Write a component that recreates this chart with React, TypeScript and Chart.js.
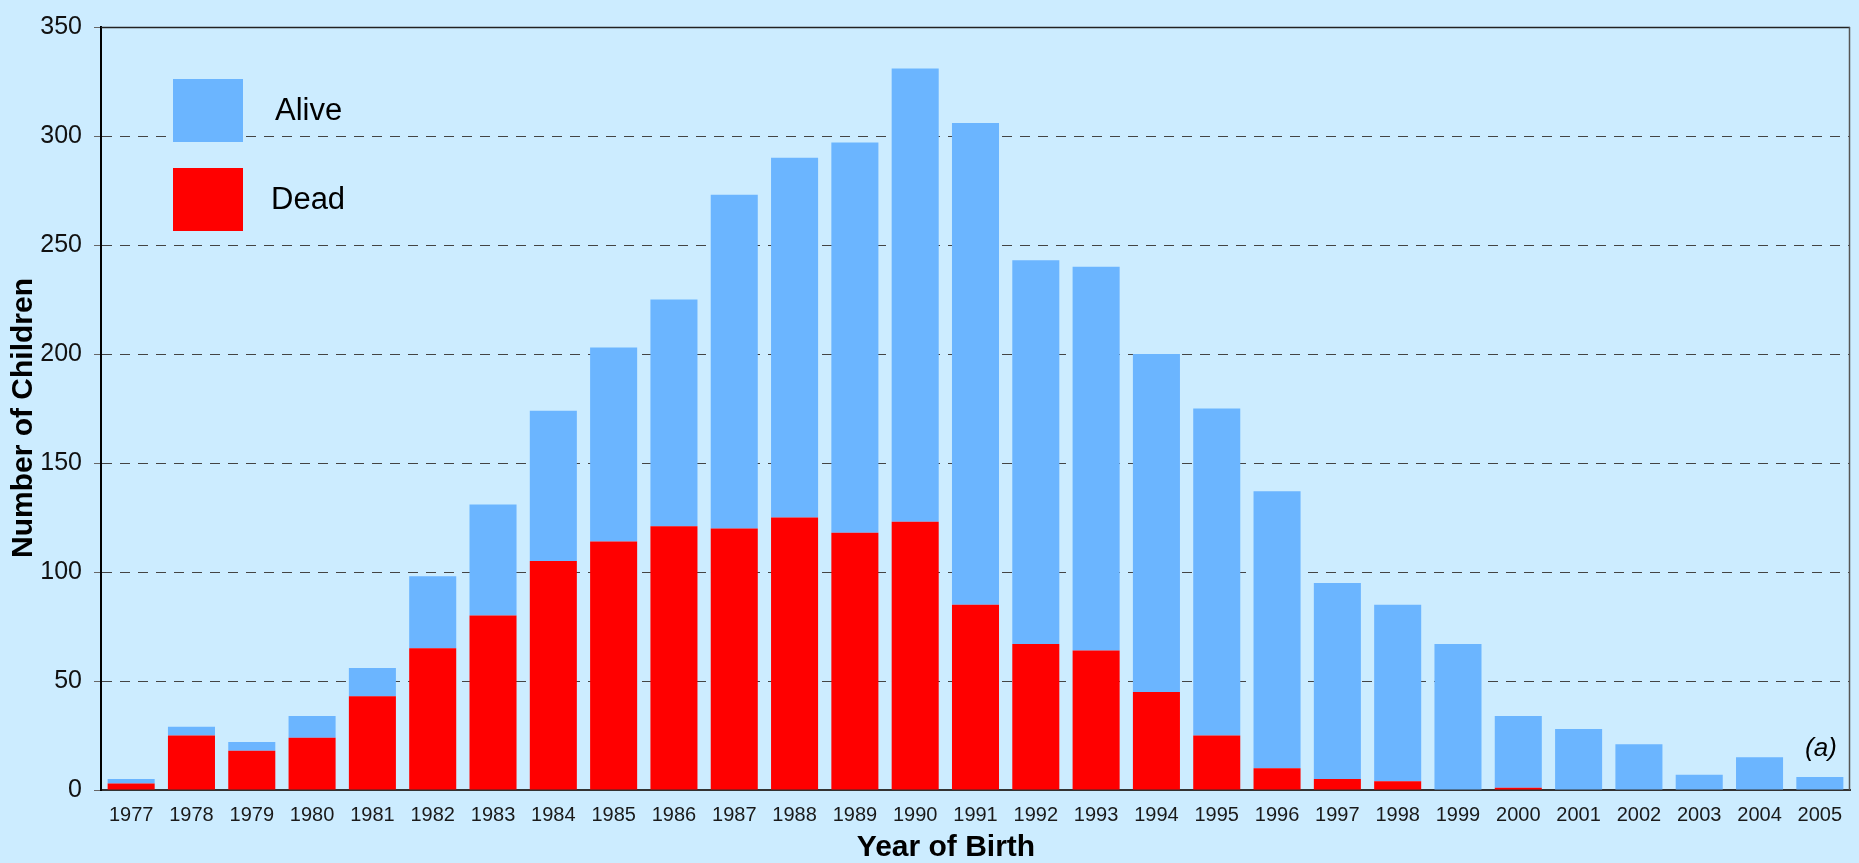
import { useEffect, useRef } from 'react';
import { Chart, registerables } from 'chart.js';

Chart.register(...registerables);

// ---- data ----
const years = ['1977', '1978', '1979', '1980', '1981', '1982', '1983', '1984', '1985', '1986', '1987', '1988', '1989', '1990', '1991', '1992', '1993', '1994', '1995', '1996', '1997', '1998', '1999', '2000', '2001', '2002', '2003', '2004', '2005'];
const deadCounts = [3, 25, 18, 24, 43, 65, 80, 105, 114, 121, 120, 125, 118, 123, 85, 67, 64, 45, 25, 10, 5, 4, 0, 1, 0, 0, 0, 0, 0];
const aliveCounts = [2, 4, 4, 10, 13, 33, 51, 69, 89, 104, 153, 165, 179, 208, 221, 176, 176, 155, 150, 127, 90, 81, 67, 33, 28, 21, 7, 15, 6];
const yMin = 0;
const yMax = 350;
const yStep = 50;
const legendLabels = ['Alive', 'Dead'];
const yTitle = 'Number of Children';
const xTitle = 'Year of Birth';
const panelLabel = '(a)';

// ---- styles ----
const BG = '#CCECFF';
const ALIVE = '#6BB5FF';
const DEAD = '#FF0000';
const FONT = "'Liberation Sans', Arial, Helvetica, sans-serif";

export default function App() {
  const ref = useRef<HTMLCanvasElement>(null);

  useEffect(() => {
    document.body.style.margin = '0';
    document.body.style.background = BG;
    const canvas = ref.current as HTMLCanvasElement;

    const decor = {
      id: 'decor',
      beforeDraw(chart: any) {
        const ctx = chart.ctx;
        ctx.save();
        ctx.fillStyle = BG;
        ctx.fillRect(0, 0, chart.width, chart.height);
        ctx.restore();
      },
      afterDatasetsDraw(chart: any) {
        const ctx = chart.ctx;
        ctx.save();
        // legend
        ctx.fillStyle = ALIVE;
        ctx.fillRect(173, 79, 70, 63);
        ctx.fillStyle = DEAD;
        ctx.fillRect(173, 168, 70, 63);
        ctx.fillStyle = '#000';
        ctx.font = `31px ${FONT}`;
        ctx.textAlign = 'left';
        ctx.textBaseline = 'alphabetic';
        ctx.fillText(legendLabels[0], 275, 120);
        ctx.fillText(legendLabels[1], 271, 209);
        ctx.restore();
      },
      afterDraw(chart: any) {
        const ctx = chart.ctx;
        const a = chart.chartArea;
        ctx.save();
        // frame top and right
        ctx.lineWidth = 1.5;
        ctx.strokeStyle = '#222';
        ctx.beginPath();
        ctx.moveTo(a.left, a.top + 0.5);
        ctx.lineTo(a.right, a.top + 0.5);
        ctx.stroke();
        ctx.strokeStyle = '#555';
        ctx.beginPath();
        ctx.moveTo(a.right - 0.5, a.top);
        ctx.lineTo(a.right - 0.5, a.bottom);
        ctx.stroke();
        // axis titles
        ctx.fillStyle = '#000';
        ctx.font = `bold 30px ${FONT}`;
        ctx.textAlign = 'center';
        ctx.textBaseline = 'middle';
        ctx.fillText(xTitle, 946, 848);
        ctx.save();
        ctx.translate(24, 418);
        ctx.rotate(-Math.PI / 2);
        ctx.fillText(yTitle, 0, 0);
        ctx.restore();
        // panel label
        ctx.font = `italic 26px ${FONT}`;
        ctx.fillText(panelLabel, 1821, 749);
        ctx.restore();
      },
    };

    const chart = new Chart(canvas, {
      type: 'bar',
      data: {
        labels: years,
        datasets: [
          { label: legendLabels[1], data: deadCounts, backgroundColor: DEAD, borderWidth: 0, barPercentage: 0.78, categoryPercentage: 1 },
          { label: legendLabels[0], data: aliveCounts, backgroundColor: ALIVE, borderWidth: 0, barPercentage: 0.78, categoryPercentage: 1 },
        ],
      },
      options: {
        responsive: false,
        animation: false,
        layout: { padding: { top: 18, right: 9, left: 0, bottom: 0 } },
        plugins: { legend: { display: false }, tooltip: { enabled: false } },
        scales: {
          x: {
            stacked: true,
            offset: true,
            grid: { display: false, drawTicks: false },
            border: { display: true, color: '#333', width: 2 },
            ticks: { font: { family: FONT, size: 20 }, color: '#1a1a1a', padding: 13, maxRotation: 0, autoSkip: false },
            afterFit: (s: any) => { s.height = 73; },
          },
          y: {
            stacked: true,
            min: yMin,
            max: yMax,
            ticks: { stepSize: yStep, font: { family: FONT, size: 25 }, color: '#111', padding: 12 },
            grid: { color: '#444', lineWidth: 1, tickLength: 7, tickColor: '#666', tickBorderDash: [] },
            border: { display: true, color: '#000', width: 2, dash: [10, 8] },
            afterFit: (s: any) => { s.width = 101; },
          },
        },
      } as any,
      plugins: [decor],
    });
    return () => chart.destroy();
  }, []);

  return (
    <div style={{ width: 1859, height: 863, background: BG }}>
      <canvas ref={ref} width={1859} height={863} style={{ display: 'block' }} />
    </div>
  );
}
